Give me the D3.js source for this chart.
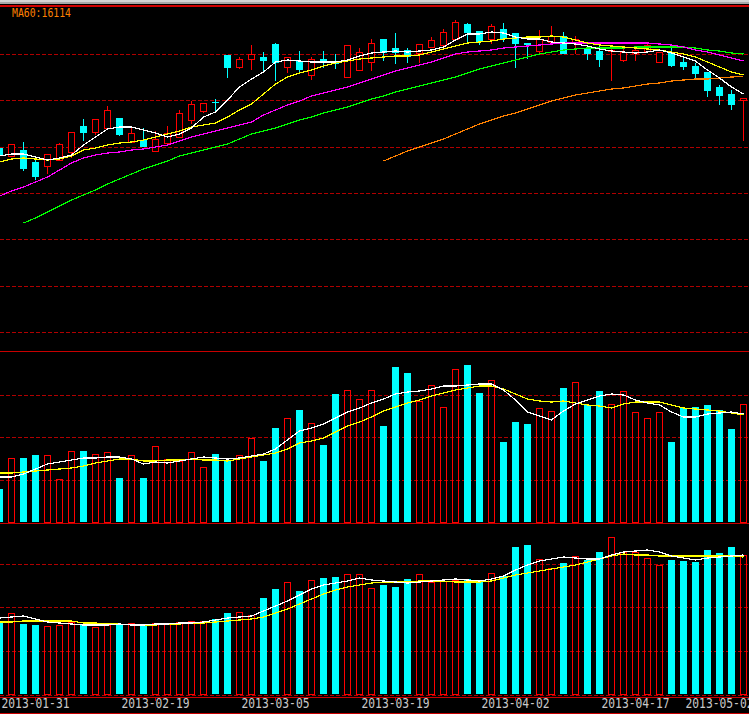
<!DOCTYPE html>
<html><head><meta charset="utf-8">
<script src="https://cdn.jsdelivr.net/npm/d3@7"></script>
<style>html,body{margin:0;padding:0;background:#000;overflow:hidden}svg{display:block}</style>
</head><body>
<script>
// ---------- DATA ----------
const openP  = [15400,15320,15380,15260,15220,15280,15360,15620,15560,15600,15700,15460,15480,15370,15450,15510,15680,15770,15860,16330,16210,16290,16310,16440,16210,16270,16130,16290,16260,16110,16180,16260,16490,16400,16380,16350,16410,16430,16490,16640,16570,16490,16590,16550,16450,16370,16460,16520,16450,16400,16370,16370,16280,16350,16370,16260,16350,16260,16220,16160,16010,15940,15880];
const highP  = [15400,15440,15460,15300,15340,15450,15560,15690,15690,15820,15700,15610,15600,15570,15620,15780,15870,15850,15890,16330,16310,16430,16360,16450,16310,16370,16310,16370,16340,16430,16400,16490,16490,16550,16400,16440,16510,16590,16680,16650,16570,16640,16650,16550,16450,16580,16620,16560,16520,16400,16420,16400,16420,16420,16460,16360,16400,16300,16250,16160,16030,15980,15900];
const lowP   = [15320,15320,15170,15080,15140,15280,15300,15470,15530,15600,15520,15460,15410,15370,15450,15510,15640,15750,15750,16100,16190,16180,16150,16070,16150,16150,16080,16200,16190,16110,16180,16170,16270,16240,16250,16250,16410,16430,16490,16460,16430,16440,16460,16200,16290,16330,16460,16340,16340,16280,16210,16070,16260,16270,16350,16250,16210,16180,16100,15910,15830,15780,15470];
const closeP = [15320,15440,15190,15110,15340,15440,15560,15550,15690,15780,15530,15550,15410,15490,15550,15750,15840,15850,15850,16200,16290,16340,16270,16250,16310,16180,16290,16250,16240,16430,16360,16450,16350,16350,16310,16440,16480,16560,16660,16550,16460,16620,16490,16440,16430,16490,16520,16340,16490,16340,16280,16380,16360,16380,16430,16360,16220,16210,16140,15970,15920,15830,15900];

const ma5  = [15320,15340,15340,15310,15280,15300,15330,15430,15510,15590,15610,15610,15580,15550,15510,15540,15600,15710,15760,15880,16010,16090,16160,16260,16280,16270,16260,16260,16260,16280,16320,16350,16360,16370,16360,16370,16380,16410,16480,16540,16540,16560,16550,16510,16490,16490,16460,16450,16440,16420,16390,16370,16360,16350,16360,16380,16350,16310,16270,16180,16100,16010,15940];
const ma10 = [15260,15290,15300,15290,15280,15290,15320,15380,15400,15430,15450,15460,15480,15510,15540,15570,15610,15630,15650,15710,15780,15840,15940,16040,16110,16150,16180,16220,16250,16270,16290,16300,16310,16320,16320,16330,16360,16390,16420,16450,16460,16470,16490,16500,16510,16510,16520,16510,16480,16450,16430,16420,16410,16400,16390,16380,16360,16340,16310,16260,16210,16160,16130];
const ma20 = [14920,14970,15010,15060,15110,15180,15250,15300,15330,15350,15360,15380,15390,15410,15430,15470,15510,15540,15570,15600,15630,15660,15730,15780,15830,15870,15920,15950,15980,16010,16050,16090,16130,16170,16200,16230,16260,16300,16340,16360,16370,16380,16400,16410,16420,16430,16440,16450,16450,16450,16450,16450,16450,16450,16450,16440,16430,16410,16380,16360,16330,16300,16270];
const ma30 = [null,null,14650,14700,14760,14820,14880,14930,14980,15040,15090,15140,15190,15230,15270,15320,15350,15380,15410,15440,15490,15540,15570,15600,15640,15680,15710,15750,15780,15810,15850,15890,15920,15960,15990,16020,16050,16080,16110,16150,16190,16220,16250,16280,16310,16340,16360,16380,16390,16400,16400,16400,16400,16410,16410,16410,16410,16410,16400,16380,16370,16350,16340];
const ma60 = [null,null,null,null,null,null,null,null,null,null,null,null,null,null,null,null,null,null,null,null,null,null,null,null,null,null,null,null,null,null,null,null,15270,15320,15370,15410,15450,15490,15540,15590,15640,15680,15720,15750,15790,15830,15870,15900,15930,15950,15970,15990,16000,16020,16040,16050,16070,16080,16090,16090,16100,16110,16114];

const vol1    = [330,640,640,670,670,430,710,710,680,700,440,670,440,760,630,610,700,550,680,620,670,840,610,940,1040,1120,990,770,1280,1320,1230,1320,960,1550,1490,1210,1370,1150,1530,1570,1290,1420,800,1000,980,1140,1110,1340,1400,1170,1310,1180,1310,1100,1040,1100,800,1140,1150,1170,1120,930,1180];
const vol1MaA = [450,450,480,530,580,600,620,640,640,650,650,630,580,600,590,610,630,650,640,630,640,660,680,730,820,910,940,980,1040,1100,1140,1190,1230,1280,1300,1310,1330,1360,1360,1370,1380,1380,1320,1220,1100,1060,1020,1110,1180,1220,1260,1280,1270,1220,1190,1170,1100,1050,1050,1080,1090,1100,1080];
const vol1MaB = [490,490,500,510,520,530,540,560,590,610,630,630,610,610,620,620,630,620,620,610,630,650,670,690,730,790,810,840,900,960,1000,1050,1110,1150,1190,1220,1260,1290,1320,1340,1360,1360,1330,1280,1230,1210,1200,1210,1190,1170,1160,1140,1180,1200,1200,1200,1170,1140,1130,1120,1110,1090,1070];

const vol2    = [710,810,700,690,680,690,720,690,670,690,690,710,690,710,710,720,730,730,750,810,820,790,960,1050,1120,1030,1140,1160,1170,1200,1200,1060,1090,1070,1150,1200,1120,1130,1140,1150,1120,1210,1180,1470,1490,1350,1260,1310,1380,1340,1420,1570,1420,1420,1360,1290,1340,1330,1320,1440,1410,1470,1390];
const vol2MaA = [760,770,780,750,720,710,700,690,690,690,700,690,690,700,700,710,710,720,740,760,770,780,830,880,930,990,1050,1090,1110,1130,1160,1140,1130,1120,1110,1120,1130,1140,1150,1140,1130,1150,1180,1240,1290,1330,1350,1370,1360,1350,1350,1390,1420,1430,1440,1420,1380,1360,1340,1360,1370,1380,1390];
const vol2MaB = [720,720,730,730,730,730,730,710,710,700,700,690,690,690,700,700,710,710,720,730,740,750,770,810,850,900,950,1000,1040,1070,1090,1110,1120,1120,1120,1130,1130,1130,1120,1120,1120,1130,1160,1190,1210,1230,1250,1270,1290,1320,1350,1380,1400,1390,1390,1380,1380,1380,1380,1380,1380,1380,1370];

const priceGrid = [16340,15877,15413,14950,14487,14023,13560];
const volGrid   = [1270,850,420];
const vol2Grid  = [1300,870,430,-10];
const tickIndex  = [3,13,23,33,43,53,60];
const tickLabels = ["2013-01-31","2013-02-19","2013-03-05","2013-03-19","2013-04-02","2013-04-17","2013-05-02"];
const maLabel = "MA60:16114";

// ---------- DRAW ----------
const W = 749, H = 714;
const svg = d3.select("body").append("svg").attr("width", W).attr("height", H)
  .attr("shape-rendering", "crispEdges");
svg.append("rect").attr("width", W).attr("height", H).attr("fill", "#000");

const RED = "#ff0000", CYAN = "#00ffff", GRID = "#b00000", SEP = "#c80000";
const n = closeP.length;
const x = d3.scaleLinear().domain([0, n - 1]).range([-0.5, -0.5 + 12 * (n - 1)]);
const yP = d3.scaleLinear().domain([13370, 16880]).range([351, 0]);
const yV1 = d3.scaleLinear().domain([0, 1710]).range([522, 351]);
const yV2 = d3.scaleLinear().domain([0, 1710]).range([694, 523]);
const up = i => closeP[i] >= openP[i];

// header
svg.append("rect").attr("x", 0).attr("y", 0).attr("width", W).attr("height", 2).attr("fill", "#d4d4d4");
svg.append("rect").attr("x", 0).attr("y", 2).attr("width", W).attr("height", 2).attr("fill", "#a8a8a8");
svg.append("rect").attr("x", 0).attr("y", 5).attr("width", W).attr("height", 2).attr("fill", "#d00000");

function hline(y, dashed, color) {
  svg.append("line").attr("x1", 0).attr("x2", W).attr("y1", y).attr("y2", y)
    .attr("stroke", color).attr("stroke-width", 1)
    .attr("stroke-dasharray", dashed ? "4,2" : null);
}
priceGrid.forEach(v => hline(Math.round(yP(v)) + 0.5, true, GRID));
volGrid.forEach(v => hline(Math.round(yV1(v)) + 0.5, true, GRID));
vol2Grid.forEach(v => hline(Math.round(yV2(v)) + 0.5, true, GRID));
hline(351.5, false, SEP);
hline(523.5, false, SEP);
hline(697.5, false, SEP);
hline(713.5, false, SEP);

// candles
const idx = d3.range(n);
const cg = svg.append("g");
cg.selectAll("line.wick").data(idx).join("line")
  .attr("x1", i => x(i)).attr("x2", i => x(i))
  .attr("y1", i => yP(highP[i])).attr("y2", i => yP(lowP[i]))
  .attr("stroke", i => up(i) ? RED : CYAN).attr("stroke-width", 1);
cg.selectAll("rect.body").data(idx).join("rect")
  .attr("x", i => up(i) ? x(i) - 3 : x(i) - 3.5)
  .attr("width", i => up(i) ? 6 : 7)
  .attr("y", i => yP(Math.max(openP[i], closeP[i])))
  .attr("height", i => Math.max(1, yP(Math.min(openP[i], closeP[i])) - yP(Math.max(openP[i], closeP[i]))))
  .attr("fill", i => up(i) ? "#000" : CYAN)
  .attr("stroke", i => up(i) ? RED : "none").attr("stroke-width", 1);

function maLine(data, scale, color) {
  const line = d3.line().defined(d => d != null).x((d, i) => x(i)).y(d => scale(d));
  svg.append("path").datum(data).attr("d", line).attr("fill", "none")
    .attr("stroke", color).attr("stroke-width", 1.2);
}
maLine(ma60, yP, "#ff8000");
maLine(ma30, yP, "#00ff00");
maLine(ma20, yP, "#ff00ff");
maLine(ma10, yP, "#ffff00");
maLine(ma5, yP, "#ffffff");

// volume panels
function volBars(vals, scale, base) {
  svg.append("g").selectAll("rect").data(idx).join("rect")
    .attr("x", i => up(i) ? x(i) - 3 : x(i) - 3.5)
    .attr("width", i => up(i) ? 6 : 7)
    .attr("y", i => scale(vals[i]))
    .attr("height", i => base - scale(vals[i]))
    .attr("fill", i => up(i) ? "none" : CYAN)
    .attr("stroke", i => up(i) ? RED : "none").attr("stroke-width", 1);
}
volBars(vol1, yV1, 522);
maLine(vol1MaB, yV1, "#ffff00");
maLine(vol1MaA, yV1, "#ffffff");
volBars(vol2, yV2, 694);
maLine(vol2MaB, yV2, "#ffff00");
maLine(vol2MaA, yV2, "#ffffff");

// x axis labels
const ax = svg.append("g");
ax.selectAll("line").data(tickIndex).join("line")
  .attr("x1", i => x(i)).attr("x2", i => x(i)).attr("y1", 697).attr("y2", 701)
  .attr("stroke", SEP);
ax.selectAll("text").data(tickIndex).join("text")
  .attr("x", i => x(i) - 34).attr("y", 708)
  .attr("textLength", 68).attr("lengthAdjust", "spacingAndGlyphs")
  .attr("font-family", "DejaVu Sans Mono").attr("font-size", 13.5)
  .attr("fill", "#c8c8c8")
  .text((d, k) => tickLabels[k]);

// MA label
svg.append("text").attr("x", 12).attr("y", 16.5)
  .attr("textLength", 59).attr("lengthAdjust", "spacingAndGlyphs")
  .attr("font-family", "DejaVu Sans Mono").attr("font-size", 11.5)
  .attr("fill", "#ff8000").text(maLabel);
</script>
</body></html>
